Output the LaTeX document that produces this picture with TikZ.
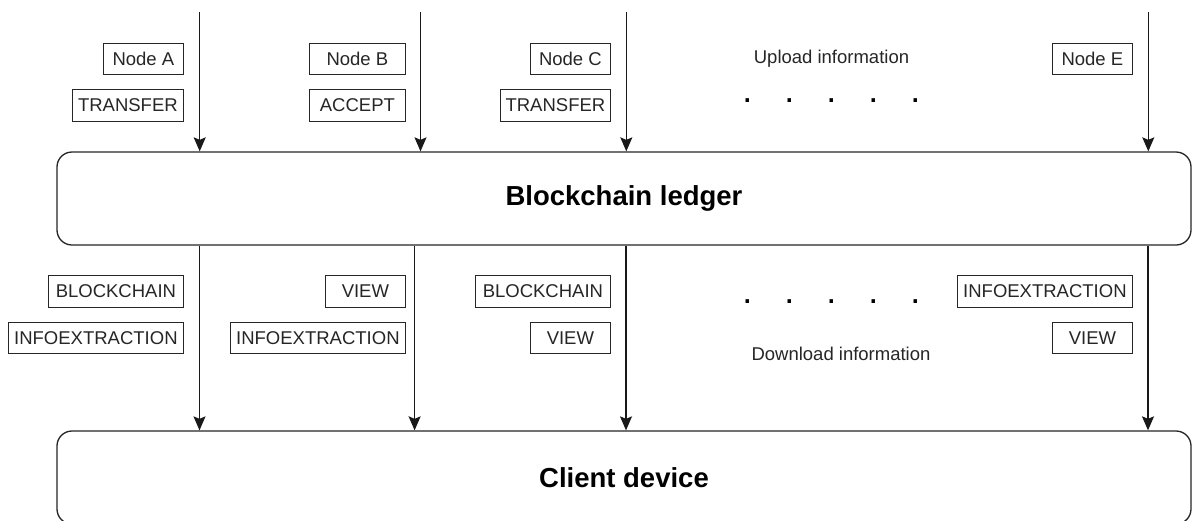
\documentclass[tikz,border=0pt]{standalone}
\usepackage{fontspec}
\setmainfont{Liberation Sans}
\usetikzlibrary{arrows.meta}

\tikzset{
  tag/.style={draw=black!85, line width=1.2pt, text=black!85, anchor=east,
    minimum height=31.5pt, inner sep=0pt,
    font=\fontsize{18.5}{22}\selectfont},
  note/.style={text=black!85, inner sep=0pt, font=\fontsize{18.5}{22}\selectfont},
  dots/.style={text=black, inner sep=0pt, anchor=base, font=\fontsize{36}{40}\selectfont},
  stage/.style={draw=black!85, line width=1.3pt, rounded corners=15pt,
    minimum width=1134pt, minimum height=93pt, inner sep=0pt,
    font=\fontsize{27.5}{32}\selectfont\bfseries},
  flow/.style={draw=black!90, line width=1.3pt,
    -{Stealth[length=14pt,width=12pt,inset=2.5pt]}}
}

\newcommand{\dotrow}{.\hspace{32pt}.\hspace{32pt}.\hspace{32pt}.\hspace{32pt}.}

\begin{document}
\begin{tikzpicture}[x=1pt,y=-1pt]
  \clip (0,0) rectangle (1192,520);
  \fill[white] (0,0) rectangle (1192,520);

  % the two layers
  \node[stage] (ledger) at (624,198.5) {Blockchain ledger};
  \node[stage] (client) at (624,477.5) {Client device};

  % upper ends of the upload lines
  \coordinate (ua) at (199.7,12);
  \coordinate (ub) at (420.5,12);
  \coordinate (uc) at (626.3,12);
  \coordinate (ue) at (1148.3,12);

  % upload arrows into the ledger
  \draw[flow] (ua) -- (ua |- ledger.north);
  \draw[flow] (ub) -- (ub |- ledger.north);
  \draw[flow] (uc) -- (uc |- ledger.north);
  \draw[flow] (ue) -- (ue |- ledger.north);

  % download arrows from the ledger to the client
  \coordinate (da) at (199.5,0);
  \coordinate (db) at (414.6,0);
  \coordinate (dc) at (626,0);
  \coordinate (de) at (1148,0);
  \draw[flow] (ledger.south -| da) -- (client.north -| da);
  \draw[flow] (ledger.south -| db) -- (client.north -| db);
  \draw[flow] (ledger.south -| dc) -- (client.north -| dc);
  \draw[flow] (ledger.south -| de) -- (client.north -| de);

  % upload tags
  \node[tag, minimum width=80pt]  (na) at (184,59)    {Node A};
  \node[tag, minimum width=111pt] (ta) at (184,105.5) {TRANSFER};
  \node[tag, minimum width=96pt]  (nb) at (406,59)    {Node B};
  \node[tag, minimum width=96pt]  (ab) at (406,105.5) {ACCEPT};
  \node[tag, minimum width=80pt]  (nc) at (611,59)    {Node C};
  \node[tag, minimum width=110pt] (tc) at (611,105.5) {TRANSFER};
  \node[tag, minimum width=80pt]  (ne) at (1133,59)   {Node E};
  \node[note] (up) at (831.5,59) {Upload information};
  \node[dots] (updots) at (831.4,102.4) {\dotrow};

  % download tags
  \node[tag, minimum width=135pt] (ba) at (184,291.5) {BLOCKCHAIN};
  \node[tag, minimum width=175pt] (ia) at (184,338)   {INFOEXTRACTION};
  \node[tag, minimum width=80pt]  (vb) at (406,291.5) {VIEW};
  \node[tag, minimum width=175pt] (ib) at (406,338)   {INFOEXTRACTION};
  \node[tag, minimum width=135pt] (bc) at (611,291.5) {BLOCKCHAIN};
  \node[tag, minimum width=80pt]  (vc) at (611,338)   {VIEW};
  \node[tag, minimum width=175pt] (ie) at (1133,291.5) {INFOEXTRACTION};
  \node[tag, minimum width=80pt]  (ve) at (1133,338)   {VIEW};
  \node[note] (down) at (841,354) {Download information};
  \node[dots] (downdots) at (831.4,303.5) {\dotrow};
\end{tikzpicture}
\end{document}
